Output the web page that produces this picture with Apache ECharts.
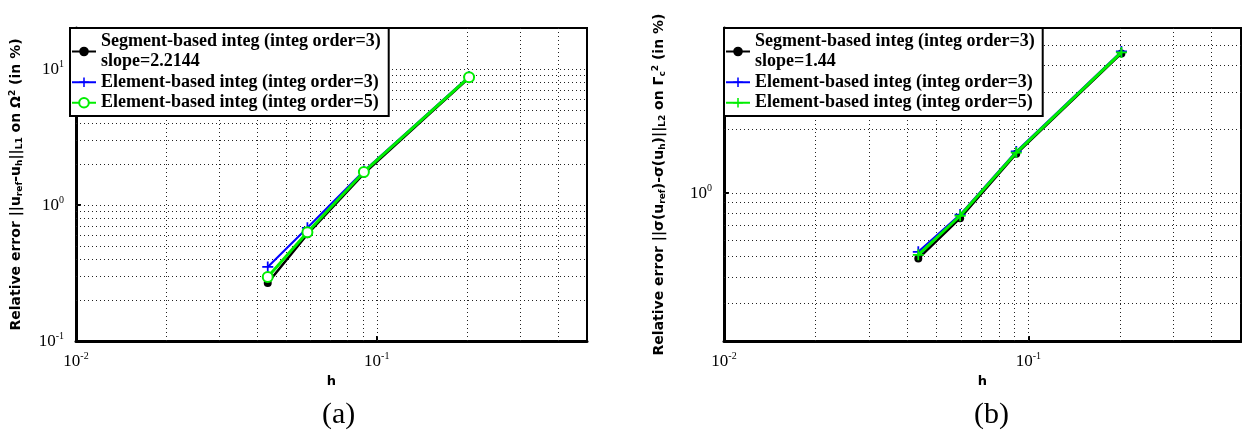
<!DOCTYPE html>
<html><head><meta charset="utf-8">
<script src="https://cdn.jsdelivr.net/npm/echarts@6/dist/echarts.min.js"></script>
<style>body{margin:0;background:#fff}#a,#b{position:absolute;top:0;width:621px;height:438px}#a{left:0}#b{left:621px}</style>
</head><body><div id="a"></div><div id="b"></div>
<script>
// ---- data (a) ----
const hA = [0.0434, 0.0588, 0.0906, 0.2027];
const segA = [0.267, 0.61, 1.70, 8.6];
const elem3A = [0.35, 0.68, 1.78, 8.8];
const elem5A = [0.295, 0.63, 1.75, 8.7];
// ---- data (b) ----
const hB = [0.0435, 0.0597, 0.0913, 0.2023];
const segB = [0.49, 0.76, 1.53, 4.55];
const elem3B = [0.527, 0.79, 1.57, 4.65];
const elem5B = [0.51, 0.78, 1.55, 4.6];
// ---- names ----
const segNameA = 'Segment-based integ (integ order=3)\nslope=2.2144';
const segNameB = 'Segment-based integ (integ order=3)\nslope=1.44';
const e3Name = 'Element-based integ (integ order=3)';
const e5Name = 'Element-based integ (integ order=5)';
// ---- grid (log) lines ----
const xGridVals = [0.02,0.03,0.04,0.05,0.06,0.07,0.08,0.09,0.1,0.2,0.3,0.4];
const yGridValsA = [0.2,0.3,0.4,0.5,0.6,0.7,0.8,0.9,1,2,3,4,5,6,7,8,9,10];
const yGridValsB = [0.3,0.4,0.5,0.6,0.7,0.8,0.9,1,2,3,4,5];
const xRange = [0.01, 0.5];
const yRangeA = [0.1, 20];
const yRangeB = [0.2, 6];

const serif = 'Liberation Serif';
const plus = 'path://M0,4.2L4.2,4.2L4.2,0L5.8,0L5.8,4.2L10,4.2L10,5.8L5.8,5.8L5.8,10L4.2,10L4.2,5.8L0,5.8Z';

function powLabel(v){
  const l = Math.log10(v), e = Math.round(l);
  if (Math.abs(l - e) > 1e-6) return '';
  return '{b|10}{s|' + e + '}';
}
const tickRich = {
  b:{fontFamily:serif,fontSize:17,color:'#000',verticalAlign:'bottom'},
  s:{fontFamily:serif,fontSize:10,color:'#000',verticalAlign:'top',padding:[0,0,9,0]}
};

function makeOption(cfg){
  const gridLeft = cfg.gridLeft;
  const zip = (xs, ys) => xs.map((x,i)=>[x, ys[i]]);
  const markData = xGridVals.map(v=>({xAxis:v})).concat(cfg.yGrid.map(v=>({yAxis:v})));
  return {
    animation:false,
    backgroundColor:'#fff',
    grid:{left:gridLeft, top:28, width:517, height:313, show:true, borderColor:'#000', borderWidth:2, backgroundColor:'#fff'},
    legend:{
      left:gridLeft, top:28, orient:'vertical',
      data:[cfg.segName, e3Name, e5Name],
      backgroundColor:'#fff', borderColor:'#000', borderWidth:2,
      padding:[3,8,3,1], itemGap:0, itemWidth:24, itemHeight:12,
      textStyle:{fontFamily:serif, fontSize:18, fontWeight:'bold', color:'#000', lineHeight:20.5},
      z:10
    },
    xAxis:{
      type:'log', logBase:10, min:xRange[0], max:xRange[1],
      name:'h', nameLocation:'middle', nameGap:34,
      nameTextStyle:{fontFamily:'DejaVu Sans', fontWeight:'bold', fontSize:13, color:'#000'},
      axisLine:{show:true, onZero:false, lineStyle:{color:'#000', width:3}},
      axisTick:{show:true, inside:true, length:5, lineStyle:{color:'#000', width:2}},
      minorTick:{show:false},
      axisLabel:{formatter:powLabel, rich:tickRich, margin:10, showMaxLabel:false},
      splitLine:{show:false}
    },
    yAxis:{
      type:'log', logBase:10, min:cfg.yRange[0], max:cfg.yRange[1],
      name:cfg.yName, nameLocation:'middle', nameRotate:90, nameGap:cfg.nameGap,
      nameTextStyle:{fontFamily:'DejaVu Sans', fontWeight:'bold', fontSize:14, color:'#000', rich:{
        n:{fontFamily:'DejaVu Sans', fontWeight:'bold', fontSize:14, color:'#000'},
        sub:{fontFamily:'DejaVu Sans', fontWeight:'bold', fontSize:9, color:'#000', verticalAlign:'bottom', padding:[7,0,0,0]},
        sup:{fontFamily:'DejaVu Sans', fontWeight:'bold', fontSize:9, color:'#000', verticalAlign:'top', padding:[0,0,7,0]}
      }},
      axisLine:{show:true, onZero:false, lineStyle:{color:'#000', width:3}},
      axisTick:{show:true, inside:true, length:5, lineStyle:{color:'#000', width:2}},
      axisLabel:{formatter:powLabel, rich:tickRich, margin:12, showMaxLabel:false, showMinLabel:true},
      splitLine:{show:false}
    },
    series:[
      {name:cfg.segName, type:'line', data:zip(cfg.h, cfg.seg), color:'#000',
       lineStyle:{width:2.5}, symbol:'circle', symbolSize:8, z:3,
       markLine:{silent:true, symbol:['none','none'], label:{show:false},
         lineStyle:{color:'#222', type:[1,3], width:1}, data:markData, z:1}},
      {name:e3Name, type:'line', data:zip(cfg.h, cfg.e3), color:'#0000ff',
       lineStyle:{width:2}, symbol:plus, symbolSize:11, z:4},
      {name:e5Name, type:'line', data:zip(cfg.h, cfg.e5), color:'#00ee00',
       lineStyle:{width:3}, symbol:cfg.e5Symbol, symbolSize:cfg.e5Symbol===plus?11:10,
       itemStyle:{borderWidth:2}, z:5}
    ],
    graphic:[{type:'text', left:cfg.capX - 19, top:400, style:{text:cfg.cap, font:'30px "Liberation Serif"', fill:'#000'}}]
  };
}

const chA = echarts.init(document.getElementById('a'));
chA.setOption(makeOption({
  gridLeft:70, h:hA, seg:segA, e3:elem3A, e5:elem5A, segName:segNameA,
  yRange:yRangeA, yGrid:yGridValsA, nameGap:52, e5Symbol:'emptyCircle',
  yName:'{n|Relative error ||}{n|u}{sub|ref}{n|-u}{sub|h}{n|||}{sub|L1}{n| on Ω}{sup|2}{n| (in %)}',
  cap:'(a)', capX:341
}));
const chB = echarts.init(document.getElementById('b'));
chB.setOption(makeOption({
  gridLeft:103, h:hB, seg:segB, e3:elem3B, e5:elem5B, segName:segNameB,
  yRange:yRangeB, yGrid:yGridValsB, nameGap:57, e5Symbol:plus,
  yName:'{n|Relative error ||σ(u}{sub|ref}{n|)-σ(u}{sub|h}{n|)||}{sub|L2}{n| on Γ}{sub|c}{sup|2}{n| (in %)}',
  cap:'(b)', capX:372
}));
</script></body></html>
